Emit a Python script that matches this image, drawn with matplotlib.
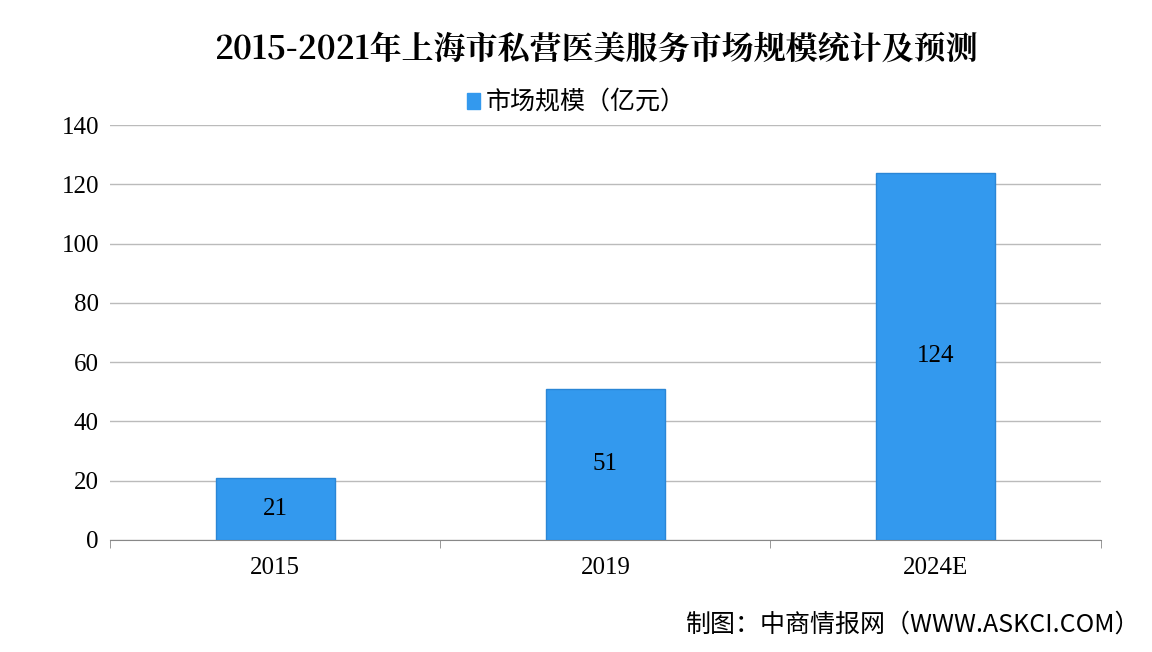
import matplotlib
matplotlib.use("Agg")
import matplotlib.pyplot as plt

categories = ["2015", "2019", "2024E"]
values = [21, 51, 124]
yticks = [0, 20, 40, 60, 80, 100, 120, 140]

plt.rcParams['font.family'] = ['Noto Sans CJK SC', 'DejaVu Sans']
fig = plt.figure(figsize=(11.52, 6.52), dpi=100)
ax = fig.add_axes([0.0955, 0.172, 0.86, 0.636])
x = list(range(len(categories)))
ax.bar(x, values, width=0.36, color="#3399EE", edgecolor="#2a86d6", zorder=3)
for xi, v in zip(x, values):
    ax.text(xi, v / 2, str(v), ha="center", va="center", fontsize=18,
            family=["Liberation Serif"], zorder=4)
ax.set_xlim(-0.5, 2.5)
ax.set_ylim(0, 140)
ax.set_yticks(yticks)
ax.set_yticklabels([str(t) for t in yticks], family=["Liberation Serif"], fontsize=18)
ax.set_xticks(x)
ax.set_xticklabels(categories, family=["Liberation Serif"], fontsize=18)
ax.set_xticks([-0.5, 0.5, 1.5, 2.5], minor=True)
ax.tick_params(axis="x", which="major", length=0, pad=12)
ax.tick_params(axis="x", which="minor", length=6, color="#888888")
ax.tick_params(axis="y", length=0, pad=8)
ax.grid(axis="y", color="#bbbbbb", linewidth=1, zorder=0)
for s in ["top", "right", "left"]:
    ax.spines[s].set_visible(False)
ax.spines["bottom"].set_color("#888888")

fig.text(0.517, 0.925, "2015-2021年上海市私营医美服务市场规模统计及预测", ha="center", va="center",
         fontsize=23, fontweight="bold", family=["Noto Serif CJK SC", "Noto Sans CJK SC"])
fig.patches.append(plt.Rectangle((0.405, 0.833), 0.012, 0.024, transform=fig.transFigure,
                                 color="#3399EE", figure=fig))
fig.text(0.422, 0.845, "市场规模（亿元）", ha="left", va="center", fontsize=18)
fig.text(0.99, 0.042, "制图：中商情报网（WWW.ASKCI.COM）", ha="right", va="center", fontsize=18)
fig.savefig("out.png")
